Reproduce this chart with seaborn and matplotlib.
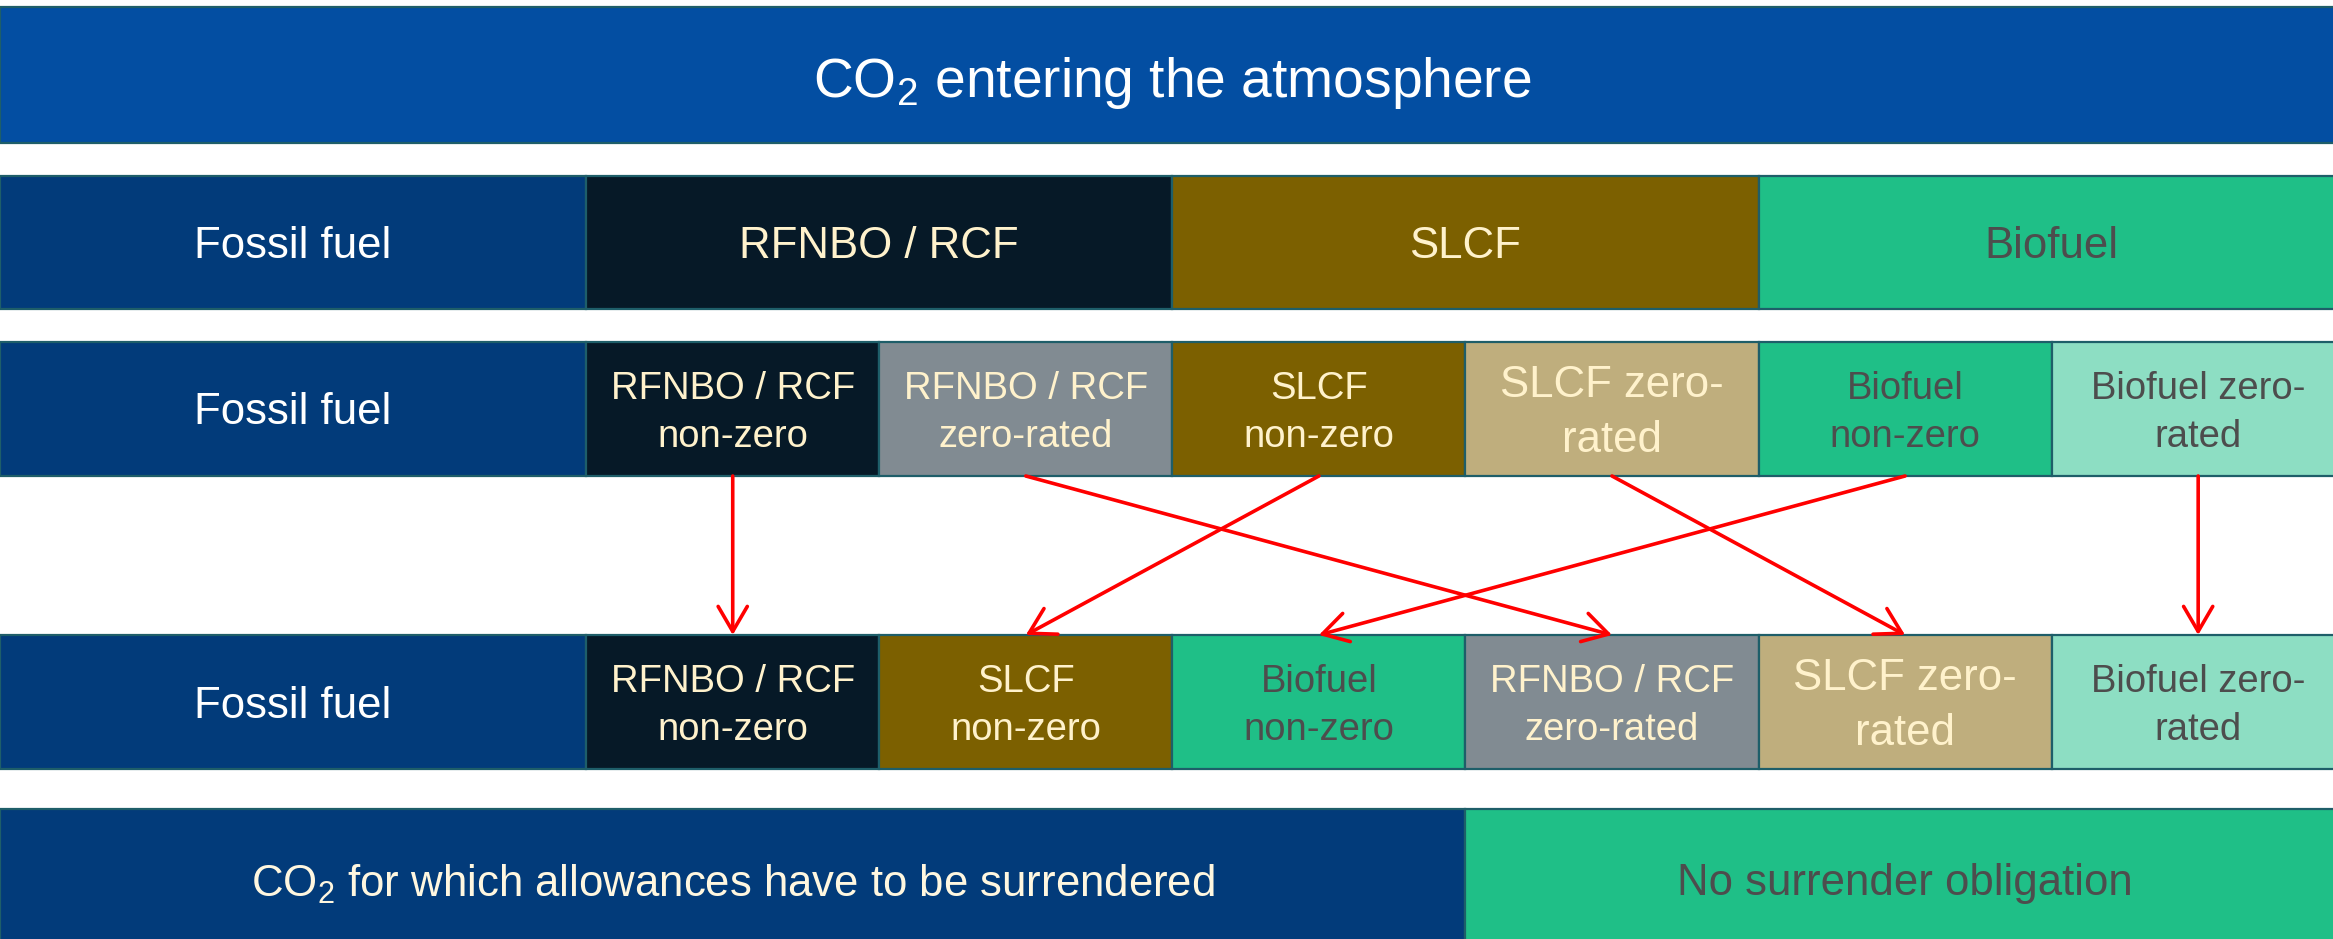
import matplotlib
matplotlib.use("Agg")
import matplotlib.pyplot as plt
import seaborn as sns
import numpy as np

# ---------------- data ----------------
title_label = "CO$_2$ entering the atmosphere"

row1_labels = ["Fossil fuel", "RFNBO / RCF", "SLCF", "Biofuel"]
row1_widths = [2, 2, 2, 2]
row1_keys = ["fossil", "rfnbo_nz", "slcf_nz", "bio_nz"]

cat_keys = ["fossil", "rfnbo_nz", "rfnbo_zr", "slcf_nz", "slcf_zr", "bio_nz", "bio_zr"]
cat_labels = ["Fossil fuel", "RFNBO / RCF\nnon-zero", "RFNBO / RCF\nzero-rated",
              "SLCF\nnon-zero", "SLCF zero-\nrated", "Biofuel\nnon-zero", "Biofuel zero-\nrated"]
cat_widths = [2, 1, 1, 1, 1, 1, 1]

row2_order = ["fossil", "rfnbo_nz", "rfnbo_zr", "slcf_nz", "slcf_zr", "bio_nz", "bio_zr"]
row3_order = ["fossil", "rfnbo_nz", "slcf_nz", "bio_nz", "rfnbo_zr", "slcf_zr", "bio_zr"]

row4_labels = ["CO$_2$ for which allowances have to be surrendered", "No surrender obligation"]
row4_widths = [5, 3]
row4_keys = ["fossil", "bio_nz"]

# ---------------- style ----------------
colors = {
    "title": "#034EA2",
    "fossil": "#023B7A",
    "rfnbo_nz": "#061927",
    "rfnbo_zr": "#818B92",
    "slcf_nz": "#7C6000",
    "slcf_zr": "#BFAE7D",
    "bio_nz": "#1FBF87",
    "bio_zr": "#8DDEC3",
}
cream = "#FFF2CC"
dark = "#4D4D4D"
text_colors = {
    "title": "white", "fossil": "white", "rfnbo_nz": cream, "rfnbo_zr": cream,
    "slcf_nz": cream, "slcf_zr": cream, "bio_nz": dark, "bio_zr": dark,
}
edge = "#1E5E69"

sns.set_theme(style="white")
plt.rcParams['font.family'] = ['Liberation Sans', 'DejaVu Sans']
plt.rcParams['mathtext.fontset'] = 'custom'
plt.rcParams['mathtext.rm'] = 'Liberation Sans'
plt.rcParams['mathtext.it'] = 'Liberation Sans:italic'
plt.rcParams['mathtext.bf'] = 'Liberation Sans:bold'

fig = plt.figure(figsize=(23.33, 9.39), dpi=100)
ax = fig.add_axes([0, 0, 1, 1])
ax.set_xlim(0, 7.96)
ax.set_ylim(939, 0)
ax.axis('off')

row_tops = [7, 176, 342, 635, 809]
row_heights = [136, 133, 134, 134, 132]

big = 31.5
small = 27.5


def draw_row(ri, widths, keys, labels, sizes, text_cols=None, dy=4, ls=1.42):
    top, h = row_tops[ri], row_heights[ri]
    lefts = np.concatenate([[0], np.cumsum(widths)[:-1]])
    ax.barh(y=top + h / 2, width=widths, left=lefts, height=h,
            color=[colors[k] for k in keys], edgecolor=edge, linewidth=1.6)
    centers = []
    for l, w, k, lab, s in zip(lefts, widths, keys, labels, sizes):
        tc = text_cols[k] if text_cols is not None else text_colors[k]
        ax.text(l + w / 2, top + h / 2 + dy, lab, ha='center', va='center',
                color=tc, fontsize=s, linespacing=ls)
        centers.append(l + w / 2)
    return dict(zip(keys, centers))


# title bar
draw_row(0, [8], ["title"], [title_label], [39.7], dy=8)
# row 1
draw_row(1, row1_widths, row1_keys, row1_labels, [big] * 4, dy=4)

lab = dict(zip(cat_keys, cat_labels))
wid = dict(zip(cat_keys, cat_widths))


def size_for(k):
    if k == "fossil":
        return big
    if k == "slcf_zr":
        return big
    return small


c2 = draw_row(2, [wid[k] for k in row2_order], row2_order, [lab[k] for k in row2_order],
              [size_for(k) for k in row2_order], dy=4)
c3 = draw_row(3, [wid[k] for k in row3_order], row3_order, [lab[k] for k in row3_order],
              [size_for(k) for k in row3_order], dy=4)

row4_tc = {"fossil": "#FFF7E0", "bio_nz": dark}
draw_row(4, row4_widths, row4_keys, row4_labels, [big, big], text_cols=row4_tc, dy=9)

# arrows
y_src = row_tops[2] + row_heights[2]
y_dst = row_tops[3]
for k in row2_order[1:]:
    ax.annotate("", xy=(c3[k], y_dst), xytext=(c2[k], y_src),
                arrowprops=dict(arrowstyle="->,head_length=0.6,head_width=0.35",
                                color="#FF0000", lw=2.6, mutation_scale=30,
                                shrinkA=0, shrinkB=0))

fig.savefig("out.png", dpi=100, facecolor="white")
